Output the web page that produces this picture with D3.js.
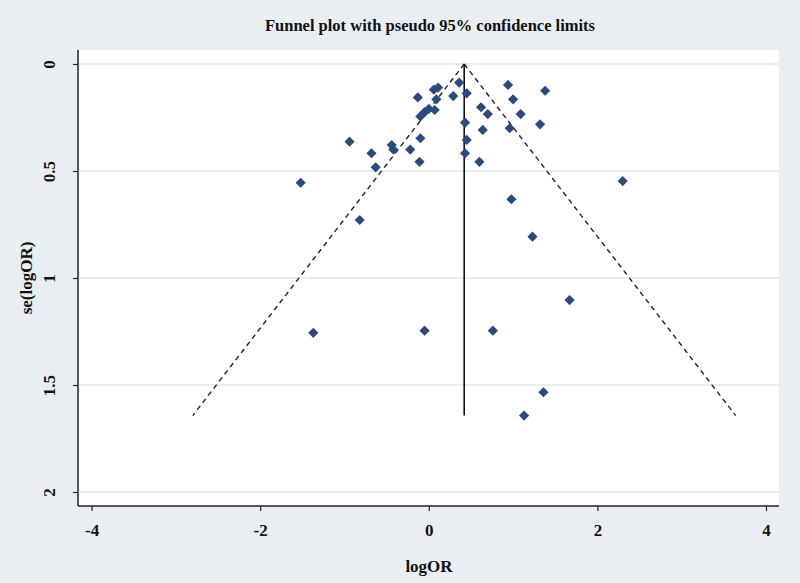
<!DOCTYPE html>
<html>
<head>
<meta charset="utf-8">
<script src="https://cdn.jsdelivr.net/npm/d3@7"></script>
<style>
  html, body { margin: 0; padding: 0; background: #e9eef2; }
  svg { display: block; }
  text { font-family: "Liberation Serif", "DejaVu Serif", serif; font-weight: bold; fill: #111; }
</style>
</head>
<body>
<svg id="chart" width="800" height="583"></svg>
<script>
// Study estimates (log odds ratio) and their standard errors
const logOR = [-1.52, -1.37, -0.94, -0.82, -0.68, -0.63, -0.44, -0.42, -0.22, -0.10, -0.11, -0.13,
  -0.10, -0.05, 0.00, 0.07, 0.06, 0.11, 0.09, 0.29, 0.36, 0.45,
  0.94, 1.38, 1.00, 0.62, 0.70, 1.09, 0.43, 0.64, 0.96, 1.32, 0.45, 0.43, 0.60,
  -0.05, 0.76, 0.98, 2.30, 1.23, 1.67, 1.36, 1.13];
const seLogOR = [0.555, 1.256, 0.363, 0.729, 0.417, 0.483, 0.379, 0.400, 0.400, 0.347, 0.457, 0.156,
  0.245, 0.225, 0.210, 0.215, 0.120, 0.110, 0.165, 0.150, 0.087, 0.137,
  0.098, 0.125, 0.165, 0.202, 0.234, 0.234, 0.274, 0.308, 0.300, 0.282, 0.355, 0.417, 0.457,
  1.246, 1.246, 0.632, 0.547, 0.807, 1.103, 1.534, 1.643];
const pooledLogOR = 0.42;
const zCrit = 1.96;
const xTicks = [-4, -2, 0, 2, 4];
const yTicks = [0, 0.5, 1, 1.5, 2];
const titleText = "Funnel plot with pseudo 95% confidence limits";
const xLabel = "logOR";
const yLabel = "se(logOR)";

const svg = d3.select("#chart");
const plot = { left: 78, right: 779, top: 50, bottom: 506 };

const x = d3.scaleLinear().domain([-4, 4]).range([91.6, 766]);
const y = d3.scaleLinear().domain([0, 2]).range([64, 492]);
const fmt = d => String(d); // plain hyphen minus as in the original

// plot background
svg.append("rect")
  .attr("x", plot.left).attr("y", plot.top)
  .attr("width", plot.right - plot.left).attr("height", plot.bottom - plot.top)
  .attr("fill", "#ffffff");

// gridlines
svg.append("g").selectAll("line").data(yTicks).join("line")
  .attr("x1", plot.left).attr("x2", plot.right)
  .attr("y1", d => y(d)).attr("y2", d => y(d))
  .attr("stroke", "#e1eaf0").attr("stroke-width", 1.5);

// axes
const yAxis = d3.axisLeft(y).tickValues(yTicks).tickSize(5).tickFormat(fmt);
const gy = svg.append("g").attr("transform", `translate(${plot.left},0)`).call(yAxis);
gy.select(".domain").remove();
gy.selectAll(".tick line").attr("stroke", "#222").attr("stroke-width", 1.2);
gy.selectAll(".tick text")
  .attr("x", null).attr("dy", null)
  .attr("transform", "translate(-27,0) rotate(-90)")
  .attr("text-anchor", "middle").attr("dominant-baseline", "middle")
  .style("font-size", "17px").style("font-family", "Liberation Serif, serif").style("font-weight", "bold").attr("fill", "#111");

const xAxis = d3.axisBottom(x).tickValues(xTicks).tickSize(5).tickFormat(fmt);
const gx = svg.append("g").attr("transform", `translate(0,${plot.bottom})`).call(xAxis);
gx.select(".domain").remove();
gx.selectAll(".tick line").attr("stroke", "#222").attr("stroke-width", 1.2);
gx.selectAll(".tick text")
  .attr("y", 30).attr("dy", null)
  .style("font-size", "17px").style("font-family", "Liberation Serif, serif").style("font-weight", "bold").attr("fill", "#111");

// axis lines
svg.append("line").attr("x1", plot.left).attr("x2", plot.left).attr("y1", plot.top).attr("y2", plot.bottom)
  .attr("stroke", "#222").attr("stroke-width", 1.5);
svg.append("line").attr("x1", plot.left).attr("x2", plot.right).attr("y1", plot.bottom).attr("y2", plot.bottom)
  .attr("stroke", "#222").attr("stroke-width", 1.5);

// funnel lines
const maxSE = d3.max(seLogOR);
const funnelLeft = [[pooledLogOR, 0], [pooledLogOR - zCrit * maxSE, maxSE]];
const funnelRight = [[pooledLogOR, 0], [pooledLogOR + zCrit * maxSE, maxSE]];
const line = d3.line().x(d => x(d[0])).y(d => y(d[1]));
[funnelLeft, funnelRight].forEach(seg => {
  svg.append("path").attr("d", line(seg))
    .attr("fill", "none").attr("stroke", "#222").attr("stroke-width", 1.4)
    .attr("stroke-dasharray", "5,4");
});
svg.append("path").attr("d", line([[pooledLogOR, 0], [pooledLogOR, maxSE]]))
  .attr("fill", "none").attr("stroke", "#111").attr("stroke-width", 1.6);

// points
const pts = logOR.map((v, i) => ({ x: v, se: seLogOR[i] }));
const sym = d3.symbol().type(d3.symbolSquare).size(52);
svg.append("g").selectAll("path").data(pts).join("path")
  .attr("d", sym)
  .attr("transform", d => `translate(${x(d.x)},${y(d.se)}) rotate(45)`)
  .attr("fill", "#2c4b7c");

// title and labels
svg.append("text").attr("x", 430).attr("y", 31).attr("text-anchor", "middle")
  .style("font-size", "16.5px").text(titleText);
svg.append("text").attr("x", 429).attr("y", 572).attr("text-anchor", "middle")
  .style("font-size", "17px").text(xLabel);
svg.append("text").attr("transform", "translate(32,278) rotate(-90)").attr("text-anchor", "middle")
  .style("font-size", "17px").text(yLabel);
</script>
</body>
</html>
